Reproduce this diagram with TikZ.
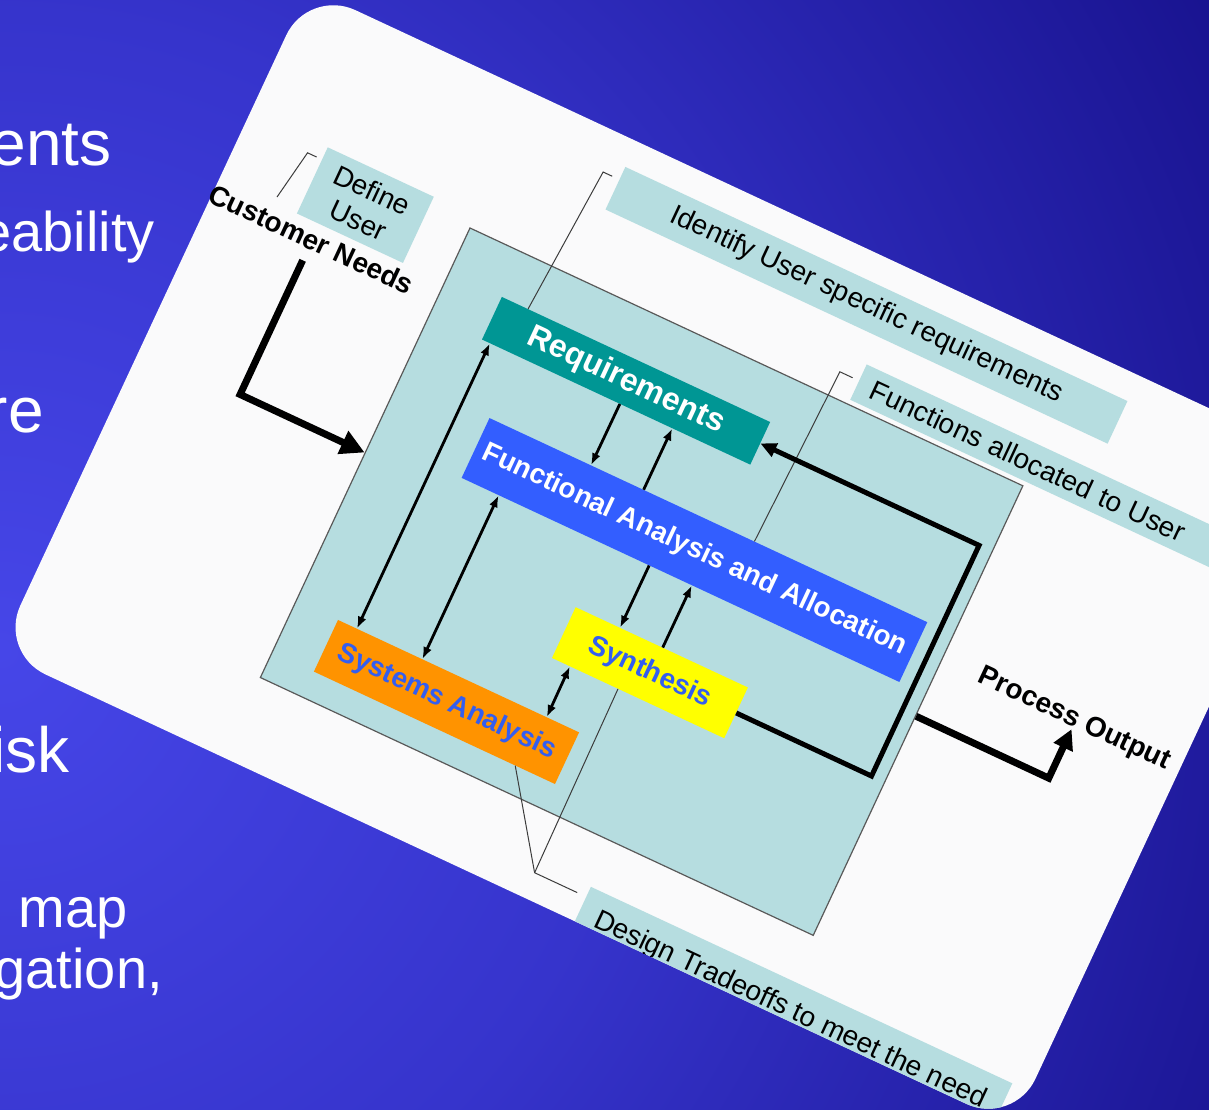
\documentclass[tikz,border=0pt]{standalone}
\usepackage{fontspec}
\setmainfont{Liberation Sans}
\usetikzlibrary{arrows.meta,calc}
\definecolor{bgA}{RGB}{70,70,232}
\definecolor{bgM}{RGB}{54,52,204}
\definecolor{bgB}{RGB}{22,16,138}
\definecolor{cardc}{RGB}{250,250,251}
\definecolor{ltb}{RGB}{182,221,224}
\definecolor{reqc}{RGB}{0,150,148}
\definecolor{fac}{RGB}{51,94,255}
\definecolor{sac}{RGB}{255,147,0}
\definecolor{sync}{RGB}{255,255,0}
\definecolor{btxt}{RGB}{51,94,240}
\definecolor{leadc}{RGB}{60,60,60}
\pgfdeclareradialshading{slidebg}{\pgfpoint{0bp}{0bp}}{color(0bp)=(bgA); color(11bp)=(bgM); color(25bp)=(bgB); color(50bp)=(bgB)}
\newcommand\fsz[2]{\fontsize{#1}{#2}\selectfont}
\begin{document}
\begin{tikzpicture}[x=1pt,y=-1pt,
  slidetxt/.style={text=white,inner sep=0pt,anchor=base east},
  procbox/.style={inner sep=0pt,font=\bfseries\fsz{28}{30}},
  notebox/.style={fill=ltb,inner sep=0pt,font=\fsz{28}{33},text=black},
  leader/.style={draw=leadc,line width=1pt},
  biarr/.style={line width=2.8pt,{Latex[length=12pt,width=9pt]}-{Latex[length=12pt,width=9pt]}},
  onearr/.style={line width=2.8pt,-{Latex[length=12pt,width=9pt]}},
  fatline/.style={line width=7pt,line join=miter}
]
\useasboundingbox (0,0) rectangle (1209,1110);
% background
\begin{scope}
\clip (0,0) rectangle (1209,1110);
\shade[shading=slidebg] (-1450,-800) rectangle (1450,2100);
\end{scope}
% slide text (cut off on the left)
\node[slidetxt,font=\fsz{64}{64}] (t1) at (112,166) {ents};
\node[slidetxt,font=\fsz{56}{56}] (t2) at (155,251) {eability};
\node[slidetxt,font=\fsz{64}{64}] (t3) at (44,432) {re};
\node[slidetxt,font=\fsz{64}{64}] (t4) at (70,772) {isk};
\node[slidetxt,font=\fsz{56}{56}] (t5) at (128,927) {map};
\node[slidetxt,font=\fsz{56}{56}] (t6) at (163,988) {gation,};
% rotated diagram card
\begin{scope}[shift={(470,228)},rotate=-25,transform shape]
\fill[cardc,rounded corners=52pt] (-248,-149) rectangle (872,584);
\node[draw=gray!70!black,line width=1.2pt,fill=ltb,minimum width=610pt,minimum height=496pt,inner sep=0pt] (big) at (305,248) {};
% note boxes
\node[notebox,minimum width=117pt,minimum height=73pt,align=center] (def) at (-104.5,23.5) {Define\\User};
\node[notebox,minimum width=554pt,minimum height=47pt] (ident) at (392,-97.5) {Identify User specific requirements};
\node[notebox,anchor=west,minimum height=39pt,inner xsep=15pt,text width=368pt,align=left] (func) at (417,-24.5) {Functions allocated to User};
\begin{scope}
\clip[rounded corners=52pt] (-248,-149) rectangle (872,584);
\node[notebox,minimum width=465pt,minimum height=56pt] (des) at (620.5,574) {Design Tradeoffs to meet the need};
\end{scope}
% labels
\node[inner sep=0pt,font=\bfseries\fsz{28}{30}] (cust) at (-139,77) {Customer Needs};
\node[inner sep=0pt,font=\bfseries\fsz{28}{30},anchor=base west] (pout) at (651,197) {Process Output};
% process boxes
\node[procbox,fill=reqc,text=white,minimum width=296pt,minimum height=47pt,font=\bfseries\fsz{32}{32}] (req) at (206,72.5) {Requirements};
\node[procbox,fill=fac,text=white,minimum width=483pt,minimum height=66pt] (fa) at (339.5,197) {Functional Analysis and Allocation};
\node[procbox,fill=sac,text=btxt,minimum width=266pt,minimum height=57pt] (sa) at (179,439.5) {Systems Analysis};
\node[procbox,fill=sync,text=btxt,minimum width=190pt,minimum height=56pt] (syn) at (351,327) {Synthesis};
% leader lines
\coordinate (ldA) at (-179,0.5);
\coordinate (ldB) at (-169,0.5);
\coordinate (ldC) at (-188,53.5);
\draw[leader] (ldC) -- (ldA) -- (ldB);
\coordinate (liA) at (97,-107);
\coordinate (liB) at (107,-107);
\draw[leader] ($(req.north west)!0.098!(req.north east)$) -- (liA) -- (liB);
\coordinate (lfA) at (396,-26);
\coordinate (lfB) at (410,-26);
\draw[leader] ($(fa.north west)!0.605!(fa.north east)$) -- (lfA) -- (lfB);
\coordinate (lvA) at (331,557);
\coordinate (lvB) at (378,557);
\draw[leader] ($(sa.south west)!0.835!(sa.south east)$) -- (lvA) -- (lvB);
\draw[leader] ($(syn.south west)!0.384!(syn.south east)$) -- (lvA);
% internal arrows
\draw[biarr] ($(req.south west)!0.03!(req.south east)$) -- ($(sa.north west)!0.079!(sa.north east)$);
\draw[biarr] ($(fa.south west)!0.085!(fa.south east)$) -- ($(sa.north west)!0.35!(sa.north east)$);
\draw[onearr] ($(req.south west)!0.514!(req.south east)$) -- ($(fa.north west)!0.232!(fa.north east)$);
\draw[onearr] ($(fa.north west)!0.352!(fa.north east)$) -- ($(req.south west)!0.709!(req.south east)$);
\draw[onearr] ($(fa.south west)!0.4286!(fa.south east)$) -- ($(syn.north west)!0.258!(syn.north east)$);
\draw[onearr] ($(syn.north west)!0.505!(syn.north east)$) -- ($(fa.south west)!0.526!(fa.south east)$);
\draw[biarr] ($(syn.south west)!0.105!(syn.south east)$) -- ($(sa.north west)!0.865!(sa.north east)$);
% thick arrows
\coordinate (cnA) at (-138,100);
\coordinate (cnB) at (-138,248);
\draw[fatline,-{Triangle[length=24pt,width=24pt]}] (cnA) -- (cnB) -- (big.west);
\coordinate (fbA) at (595.5,327);
\coordinate (fbB) at (595.5,72.5);
\draw[line width=5pt,line join=miter,-{Triangle[length=16pt,width=14pt]}] (syn.east) -- (fbA) -- (fbB) -- (req.east);
\coordinate (poA) at (757,254);
\coordinate (poB) at (757,200);
\draw[fatline,-{Triangle[length=20pt,width=20pt]}] ($(big.north east)!0.512!(big.south east)$) -- (poA) -- (poB);
\end{scope}
\end{tikzpicture}
\end{document}
